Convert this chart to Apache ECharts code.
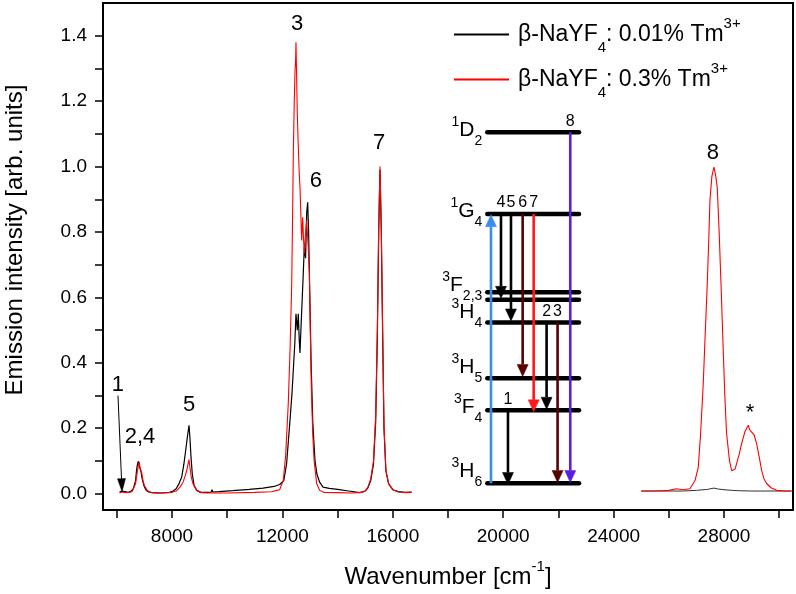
<!DOCTYPE html>
<html><head><meta charset="utf-8">
<script src="https://cdn.jsdelivr.net/npm/echarts@6/dist/echarts.min.js"></script>
<style>html,body{margin:0;padding:0;background:#fff}#c{width:796px;height:594px}</style>
</head><body><div id="c"></div>
<script>
const FONT = '"Liberation Sans", Arial, Helvetica, sans-serif';

// ---- spectra: beta-NaYF4 0.01% Tm (black) ----
const blackX1 = [6100,6180,6240,6300,6400,6500,6600,6680,6720,6750,6780,6810,6840,6870,6920,6980,7050,7150,7300,7600,7900,8000,8150,8250,8350,8430,8500,8560,8616,8650,8690,8735,8800,8900,9050,9300,9420,9450,9480,9700,10200,10800,11300,11700,11900,12050,12150,12275,12350,12395,12450,12492,12540,12576,12610,12637,12670,12700,12750,12793,12840,12880,12916,12950,12990,13040,13100,13181,13250,13350,13471,13700,14000,14400,14800,15000,15100,15200,15300,15380,15440,15490,15536,15580,15633,15680,15750,15850,16000,16200,16450,16683];
const blackY1 = [0.004,0.008,0.012,0.006,0.004,0.006,0.015,0.04,0.075,0.09,0.099,0.085,0.09,0.07,0.045,0.025,0.012,0.005,0.003,0.002,0.004,0.006,0.015,0.03,0.05,0.09,0.135,0.175,0.209,0.17,0.11,0.06,0.025,0.01,0.004,0.004,0.005,0.012,0.005,0.006,0.009,0.013,0.017,0.022,0.028,0.04,0.09,0.224,0.31,0.377,0.46,0.55,0.5,0.55,0.47,0.43,0.5,0.56,0.66,0.754,0.72,0.86,0.891,0.8,0.62,0.4,0.22,0.1,0.06,0.035,0.02,0.016,0.013,0.008,0.003,0.008,0.018,0.04,0.09,0.22,0.48,0.8,0.99,0.82,0.48,0.2,0.07,0.03,0.012,0.006,0.004,0.005];
const blackX2 = [25000,25800,26500,27000,27400,27635,27800,28000,28300,28500,29000,29500,30000,30450];
const blackY2 = [0.008,0.008,0.008,0.01,0.013,0.017,0.014,0.012,0.01,0.009,0.008,0.008,0.008,0.008];

// ---- spectra: beta-NaYF4 0.3% Tm (red) ----
const redX1 = [6100,6200,6250,6300,6450,6550,6600,6680,6740,6790,6815,6840,6870,6900,6950,7000,7100,7250,7500,8000,8150,8290,8400,8480,8532,8580,8616,8650,8700,8760,8890,9050,9300,10000,11000,11600,11800,11900,12032,12120,12213,12280,12335,12370,12395,12430,12456,12480,12492,12510,12540,12576,12610,12637,12670,12698,12734,12765,12793,12840,12880,12930,12975,13010,13050,13100,13150,13243,13350,13500,14000,14500,14900,15000,15100,15200,15300,15380,15440,15490,15536,15580,15633,15680,15750,15850,16000,16200,16450,16683];
const redY1 = [0.002,0.005,0.006,0.003,0.004,0.006,0.01,0.03,0.065,0.09,0.097,0.08,0.085,0.065,0.04,0.025,0.01,0.003,0.001,0.004,0.008,0.02,0.035,0.055,0.07,0.09,0.104,0.08,0.05,0.03,0.01,0.003,0.002,0.002,0.004,0.006,0.01,0.012,0.04,0.12,0.276,0.45,0.63,0.85,1.04,1.2,1.29,1.33,1.38,1.3,1.16,1.06,0.98,0.937,0.85,0.774,0.845,0.78,0.734,0.8,0.835,0.76,0.68,0.5,0.32,0.18,0.1,0.03,0.01,0.004,0.003,0.002,0.004,0.008,0.02,0.045,0.1,0.24,0.5,0.82,1.0,0.82,0.5,0.21,0.07,0.03,0.012,0.005,0.003,0.004];
const redX2 = [25000,25500,26000,26285,26500,26767,26950,27067,27150,27248,27320,27393,27450,27490,27560,27635,27670,27707,27755,27827,27900,27972,28030,28094,28200,28280,28336,28400,28457,28550,28638,28760,28880,28930,29001,29090,29182,29280,29364,29450,29545,29700,29908,30200,30450];
const redY2 = [0.008,0.008,0.01,0.015,0.012,0.015,0.04,0.08,0.18,0.336,0.49,0.64,0.78,0.896,0.97,0.998,0.985,0.967,0.937,0.794,0.62,0.438,0.3,0.183,0.1,0.07,0.066,0.075,0.092,0.12,0.153,0.19,0.209,0.195,0.199,0.18,0.153,0.11,0.071,0.045,0.031,0.018,0.01,0.008,0.008];

// ---- axis ticks ----
const xTickValues = [6000,8000,10000,12000,14000,16000,18000,20000,22000,24000,26000,28000,30000];
const xLabelValues = [8000,12000,16000,20000,24000,28000];
const yTickValues = [0,0.1,0.2,0.3,0.4,0.5,0.6,0.7,0.8,0.9,1.0,1.1,1.2,1.3,1.4];
const yLabelValues = [0,0.2,0.4,0.6,0.8,1.0,1.2,1.4];

// ---- peak annotations ----
const peakLabels = ['1','2,4','5','3','6','7','8','*'];
const peakLabelX = [6043,6840,8616,12529,13217,15500,27600,28940];
const peakLabelY = [0.331,0.172,0.27,1.437,0.957,1.073,1.043,0.248];
const pointerFrom = [6043,0.300];
const pointerTo = [6190,0.006];

// ---- energy level diagram (in data units) ----
const levelRange = [19424,22746];
const levelY = [1.105,0.855,0.616,0.593,0.523,0.353,0.255,0.032];
const levelNames = ['{u|1}{m|D}{d|2}','{u|1}{m|G}{d|4}','{u|3}{m|F}{d|2,3}','','{u|3}{m|H}{d|4}','{u|3}{m|H}{d|5}','{u|3}{m|F}{d|4}','{u|3}{m|H}{d|6}'];
const levelNameDy = [-2,-3,-7,0,-10,-11,-3,-12];
const arrowX = [19557,19920,20282,20705,21104,22430,21572,21970,20173];
const arrowFrom = [0.032,0.855,0.855,0.855,0.855,1.105,0.523,0.523,0.255];
const arrowTo = [0.853,0.597,0.528,0.358,0.250,0.034,0.258,0.034,0.028];
const arrowLabels = ['','4','5','6','7','8','2','3','1'];
const arrowColors = ['#3a8cf0','#000000','#000000','#5a0000','#ff1a1a','#5a1ee0','#000000','#5a0000','#000000'];

const zip = (xs, ys) => xs.map((x, i) => [x, ys[i]]);

function arrow(api, a, b, color, lw, headL, headW) {
  const p0 = api.coord(a), p1 = api.coord(b);
  const dx = p1[0]-p0[0], dy = p1[1]-p0[1];
  const len = Math.hypot(dx, dy), ux = dx/len, uy = dy/len;
  const bx = p1[0]-ux*headL, by = p1[1]-uy*headL;
  return [
    {type:'line', shape:{x1:p0[0], y1:p0[1], x2:bx, y2:by}, style:{stroke:color, lineWidth:lw}},
    {type:'polygon', shape:{points:[[p1[0],p1[1]],[bx-uy*headW, by+ux*headW],[bx+uy*headW, by-ux*headW]]}, style:{fill:color, stroke:color, lineWidth:0.5}}
  ];
}

const legendText = {
  '0.01%': '{a|β-NaYF}{d|4}{b|: 0.01% Tm}{u|3+}',
  '0.3%': '{a|β-NaYF}{d|4}{b|: 0.3% Tm}{u|3+}'
};

const chart = echarts.init(document.getElementById('c'), null, {renderer:'canvas'});
const lineCommon = {type:'line', symbol:'none', showSymbol:false, animation:false, silent:true};

chart.setOption({
  animation: false,
  backgroundColor: '#fff',
  textStyle: {fontFamily: FONT},
  grid: {left:103, right:3, top:3, bottom:84, show:true, borderColor:'#000', borderWidth:2, backgroundColor:'transparent'},
  legend: {
    orient:'vertical', left:448, top:11, itemWidth:55, itemHeight:14, itemGap:6,
    selectedMode:false,
    data:['0.01%','0.3%'],
    itemStyle:{opacity:0, borderWidth:0},
    formatter: n => legendText[n],
    textStyle: {
      fontFamily: FONT, color:'#000',
      rich: {
        a: {fontSize:23, lineHeight:34, fontFamily:FONT, color:'#000', verticalAlign:'middle', padding:[0,0,0,4]},
        b: {fontSize:23, lineHeight:34, fontFamily:FONT, color:'#000', verticalAlign:'middle'},
        d: {fontSize:15, height:8, fontFamily:FONT, color:'#000', verticalAlign:'bottom'},
        u: {fontSize:15, height:12, fontFamily:FONT, color:'#000', verticalAlign:'top'}
      }
    }
  },
  xAxis: {
    type:'value', min:5500, max:30500,
    axisLine:{onZero:false, lineStyle:{color:'#000', width:2}},
    axisTick:{show:true, inside:false, length:8, customValues:xTickValues, lineStyle:{color:'#000', width:1.5}},
    axisLabel:{customValues:xLabelValues, fontSize:19, fontFamily:FONT, color:'#000', margin:17, formatter: v => String(v)},
    splitLine:{show:false}
  },
  yAxis: {
    type:'value', min:-0.05, max:1.5,
    axisLine:{onZero:false, lineStyle:{color:'#000', width:2}},
    axisTick:{show:true, inside:false, length:8, customValues:yTickValues, lineStyle:{color:'#000', width:1.5}},
    axisLabel:{customValues:yLabelValues, fontSize:19, fontFamily:FONT, color:'#000', margin:16, formatter: v => v.toFixed(1)},
    splitLine:{show:false}
  },
  graphic: [
    {type:'text', x:15, y:240, rotation:Math.PI/2, silent:true,
     style:{text:'Emission intensity [arb. units]', fontSize:24, fontFamily:FONT, fill:'#000', align:'center', verticalAlign:'middle'}},
    {type:'text', x:448, y:577, silent:true,
     style:{text:'{m|Wavenumber [cm}{u|-1}{m|]}', align:'center', verticalAlign:'middle', fill:'#000',
       rich:{m:{fontSize:24, lineHeight:30, fontFamily:FONT, fill:'#000', verticalAlign:'middle'},
             u:{fontSize:15, height:10, fontFamily:FONT, fill:'#000', verticalAlign:'top'}}}}
  ],
  series: [
    Object.assign({}, lineCommon, {name:'0.01%', data:zip(blackX1, blackY1), lineStyle:{color:'#000', width:1.2}, itemStyle:{color:'#000'}, z:2}),
    Object.assign({}, lineCommon, {name:'0.01%', data:zip(blackX2, blackY2), lineStyle:{color:'#333', width:1}, itemStyle:{color:'#000'}, z:2}),
    Object.assign({}, lineCommon, {name:'0.3%', data:zip(redX1, redY1), lineStyle:{color:'#ff0000', width:1.1}, itemStyle:{color:'#ff0000'}, z:3}),
    Object.assign({}, lineCommon, {name:'0.3%', data:zip(redX2, redY2), lineStyle:{color:'#ff0000', width:1.1}, itemStyle:{color:'#ff0000'}, z:3}),
    // energy levels
    {type:'custom', silent:true, z:5, data: levelY.map(y => [levelRange[0], y]),
     renderItem: (params, api) => {
       const y = api.value(1);
       const p0 = api.coord([levelRange[0], y]), p1 = api.coord([levelRange[1], y]);
       const children = [{type:'line', shape:{x1:p0[0], y1:p0[1], x2:p1[0], y2:p1[1]}, style:{stroke:'#000', lineWidth:4.5, lineCap:'round'}}];
       const t = levelNames[params.dataIndex];
       if (t) children.push({type:'text', x:p0[0]-5, y:p0[1]+levelNameDy[params.dataIndex],
         style:{text:t, align:'right', verticalAlign:'middle', fill:'#000',
           rich:{m:{fontSize:21, lineHeight:30, fontFamily:FONT, fill:'#000', verticalAlign:'middle'},
                 u:{fontSize:14, height:14, fontFamily:FONT, fill:'#000', verticalAlign:'top'},
                 d:{fontSize:14, height:8, fontFamily:FONT, fill:'#000', verticalAlign:'bottom'}}}});
       return {type:'group', children};
     }},
    // transitions
    {type:'custom', silent:true, z:6, data: arrowX.map((x, i) => [x, arrowFrom[i], arrowTo[i]]),
     renderItem: (params, api) => {
       const i = params.dataIndex, x = api.value(0), y0 = api.value(1), y1 = api.value(2);
       const children = arrow(api, [x, y0], [x, y1], arrowColors[i], 2.6, 12, 5.5);
       if (arrowLabels[i]) {
         const p = api.coord([x, y0]);
         children.push({type:'text', x:p[0], y:p[1]-3, style:{text:arrowLabels[i], fontSize:16, fontFamily:FONT, fill:'#000', align:'center', verticalAlign:'bottom'}});
       }
       return {type:'group', children};
     }},
    // peak labels
    {type:'custom', silent:true, z:6, data: peakLabelX.map((x, i) => [x, peakLabelY[i]]),
     renderItem: (params, api) => {
       const p = api.coord([api.value(0), api.value(1)]);
       return {type:'text', x:p[0], y:p[1], style:{text:peakLabels[params.dataIndex], fontSize:22, fontFamily:FONT, fill:'#000', align:'center', verticalAlign:'middle'}};
     }},
    // pointer for peak 1
    {type:'custom', silent:true, z:6, data:[[pointerFrom[0], pointerFrom[1], pointerTo[0], pointerTo[1]]],
     renderItem: (params, api) => ({type:'group', children: arrow(api, [api.value(0), api.value(1)], [api.value(2), api.value(3)], '#000', 1, 13, 4)})}
  ]
});
</script></body></html>
